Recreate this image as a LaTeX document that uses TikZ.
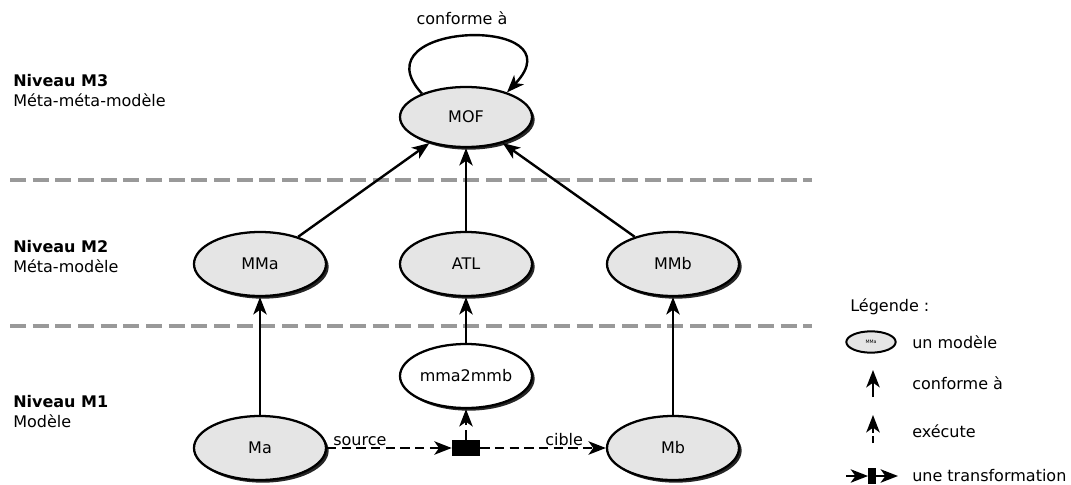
\documentclass[tikz,border=0pt]{standalone}
\usepackage{fontspec}
\setmainfont{DejaVu Sans}
\usetikzlibrary{arrows.meta,shadows,shapes.geometric}
\begin{document}
\begin{tikzpicture}[x=0.75pt,y=-0.75pt,
  font=\fontsize{12}{14}\selectfont,
  model/.style={ellipse, draw=black, line width=1.7pt, fill=gray!20,
    minimum width=99pt, minimum height=48pt, inner sep=0pt,
    drop shadow={shadow xshift=2pt, shadow yshift=-2pt, fill=black!85, opacity=1}},
  plainmodel/.style={model, fill=white},
  conf/.style={line width=1.8pt, -{Stealth[length=13pt,width=10pt,inset=3.5pt]}},
  exec/.style={conf, dash pattern=on 7pt off 4pt},
  levelsep/.style={line width=2.6pt, draw=black!40, dash pattern=on 12pt off 5pt},
  lbl/.style={anchor=base west, inner sep=0pt},
  squarebox/.style={rectangle, fill=black, draw=none, inner sep=0pt}
]
\useasboundingbox (0,0) rectangle (1071,485);

% level separators
\coordinate (s1a) at (10,180); \coordinate (s1b) at (812,180);
\coordinate (s2a) at (10,326); \coordinate (s2b) at (812,326);
\draw[levelsep] (s1a) -- (s1b);
\draw[levelsep] (s2a) -- (s2b);

% level labels
\node[lbl, font=\fontsize{12}{14}\selectfont\bfseries] (n3) at (13,87) {Niveau M3};
\node[lbl] (d3) at (13,107) {Méta-méta-modèle};
\node[lbl, font=\fontsize{12}{14}\selectfont\bfseries] (n2) at (13,252) {Niveau M2};
\node[lbl] (d2) at (13,272) {Méta-modèle};
\node[lbl, font=\fontsize{12}{14}\selectfont\bfseries] (n1) at (13,407) {Niveau M1};
\node[lbl] (d1) at (13,427) {Modèle};

% models
\node[model, minimum height=45pt] (MOF) at (466,117) {MOF};
\node[model] (MMa) at (260,264) {MMa};
\node[model] (ATL) at (466,264) {ATL};
\node[model] (MMb) at (673,264) {MMb};
\node[plainmodel] (mm) at (466,376) {mma2mmb};
\node[model] (Ma) at (260,448) {Ma};
\node[model] (Mb) at (673,448) {Mb};
\node[squarebox, minimum width=21pt, minimum height=12pt] (sq) at (466,448) {};

% self loop
\draw[conf] (MOF.152) .. controls +(-67,-73) and +(74,-78) .. (MOF.31);
\node[anchor=base, inner sep=0pt] (cf) at (462,25) {conforme à};

% conformance arrows
\draw[conf] (MMa) -- (MOF);
\draw[conf] (ATL) -- (MOF);
\draw[conf] (MMb) -- (MOF);
\draw[conf] (Ma) -- (MMa);
\draw[conf] (mm) -- (ATL);
\draw[conf] (Mb) -- (MMb);

% transformation
\draw[exec] (Ma) -- (sq);
\draw[exec] (sq) -- (Mb);
\draw[exec] (sq) -- (mm);
\node[lbl] (src) at (333,445) {source};
\node[lbl] (cib) at (545,445) {cible};

% legend
\node[lbl] (leg) at (850,311) {Légende :};
\node[ellipse, draw=black, line width=1.5pt, fill=gray!20, minimum width=37pt, minimum height=16pt,
  inner sep=0pt, font=\fontsize{3.5}{4}\selectfont] (lm) at (871,342) {MMa};
\node[lbl] (t1) at (912,348) {un modèle};
\coordinate (lc1) at (873,397); \coordinate (lc2) at (873,370);
\draw[conf] (lc1) -- (lc2);
\node[lbl] (t2) at (912,389) {conforme à};
\coordinate (le1) at (873,443); \coordinate (le2) at (873,415);
\draw[exec, dash pattern=on 5pt off 2.5pt] (le1) -- (le2);
\node[lbl] (t3) at (912,437) {exécute};
\coordinate (lt1) at (846,476); \coordinate (lt2) at (898,476);
\node[squarebox, minimum width=5.5pt, minimum height=12.5pt] (lsq) at (872,476) {};
\draw[conf] (lt1) -- (lsq.west);
\draw[conf] (lsq.east) -- (lt2);
\node[lbl] (t4) at (912,481) {une transformation};
\end{tikzpicture}
\end{document}
